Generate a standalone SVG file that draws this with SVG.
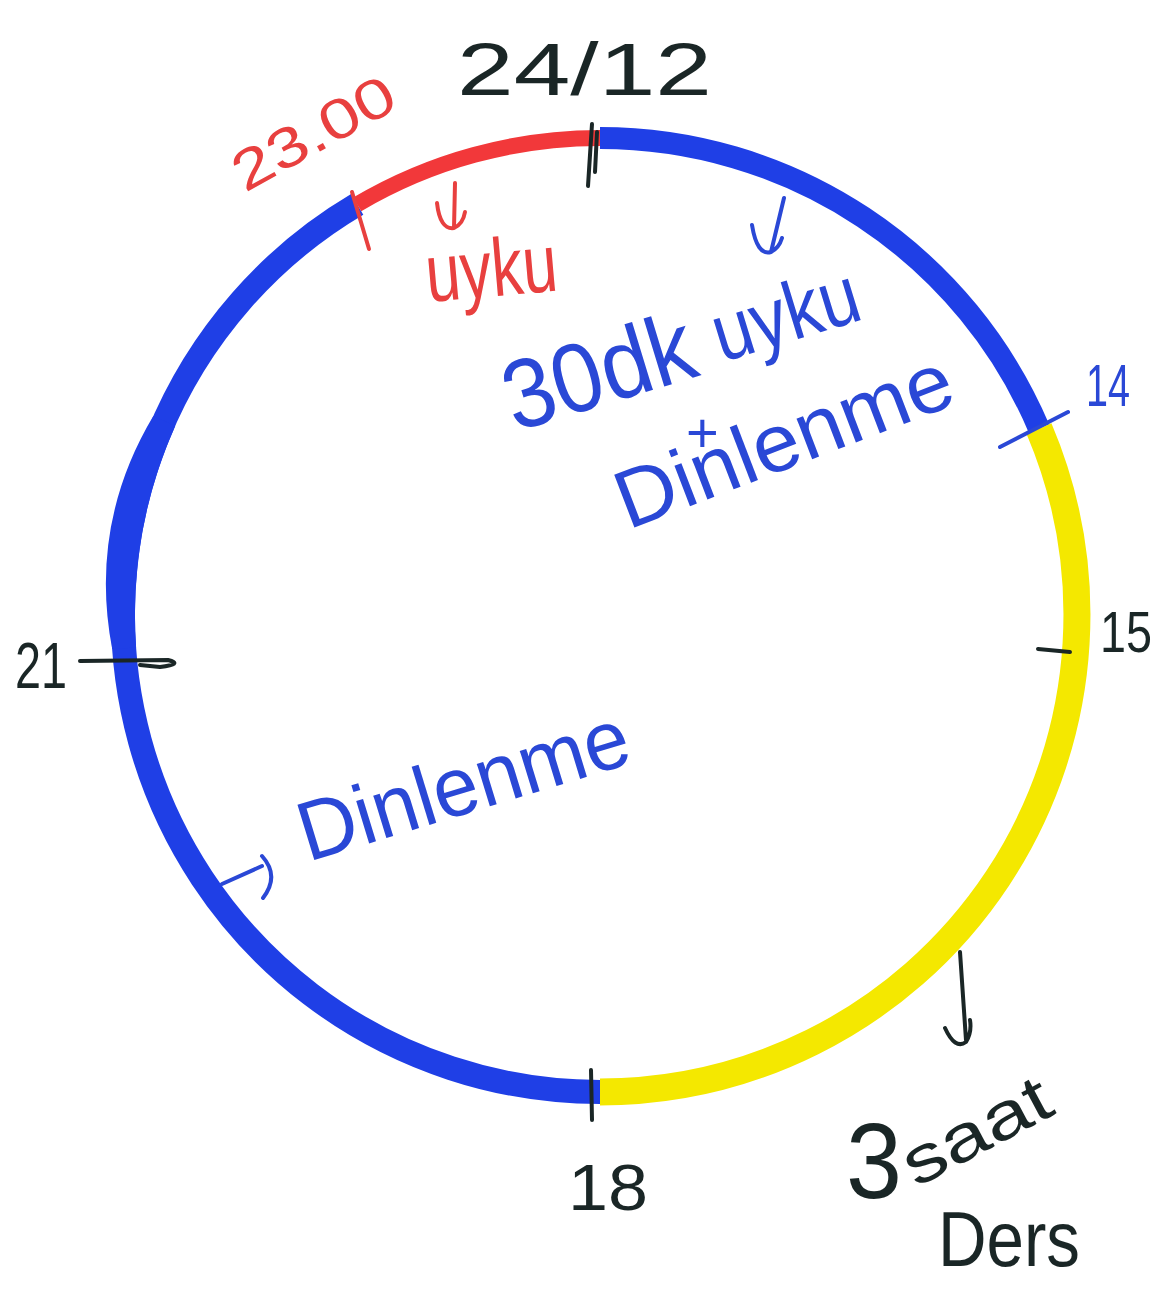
<svg xmlns="http://www.w3.org/2000/svg" width="1166" height="1291" viewBox="0 0 1166 1291">
<style>
.arc{fill:none;stroke-linecap:butt}
.blue{stroke:#1f3fe6}
.yel{stroke:#f4e800}
.red{stroke:#f2383a}
.ink{fill:none;stroke:#1a2626;stroke-width:4;stroke-linecap:round;stroke-linejoin:round}
.inkb{fill:none;stroke:#2a48d6;stroke-width:4;stroke-linecap:round;stroke-linejoin:round}
.inkr{fill:none;stroke:#e8403f;stroke-width:4;stroke-linecap:round;stroke-linejoin:round}
text{font-family:"Liberation Sans","DejaVu Sans",sans-serif}
.tb{fill:#1a2626}
.tblue{fill:#2a48d6}
.tred{fill:#e8403f}
</style>
<rect width="1166" height="1291" fill="#ffffff"/>
<g id="clock">
  <path class="arc blue" stroke-width="22" d="M600,138 A477,477 0 0 1 1039,428.6"/>
  <path class="arc yel" stroke-width="27" d="M1039,428.6 A477,477 0 0 1 600,1092"/>
  <path class="arc blue" stroke-width="24" d="M600,1092 A477,477 0 0 1 357.2,204.4"/>
  <path fill="#1f3fe6" d="M153.3,416.1 Q88.5,524.8 112.2,649.1 L136.1,647.5 A465,465 0 0 1 175.2,425.9 Z"/>
  <path class="arc red" stroke-width="16" d="M357.2,204.4 A477,477 0 0 1 600,138"/>
</g>
<g id="ticks">
  <path class="ink" d="M592,124 L588,186 M597,132 L595,172"/>
  <path class="inkr" d="M352,192 L369,249"/>
  <path class="inkb" stroke-width="6" d="M1000,447 L1068,412"/>
  <path class="ink" d="M1038,649 L1070,652"/>
  <path class="ink" d="M80,661 L168,660 Q184,664 160,667 L140,665"/>
  <path class="ink" d="M591,1070 L592,1120"/>
</g>
<g id="connectors">
  <path class="inkr" d="M455,183 L454,228 M437,203 Q440,230 454,228 Q463,224 465,212"/>
  <path class="inkb" d="M784,198 L771,252 M752,225 Q757,256 771,252 Q779,248 782,238"/>
  <path class="ink" d="M960,952 L966,1040 M945,1028 Q955,1050 966,1042 Q972,1032 970,1020"/>
  <path class="inkb" d="M222,884 L262,866 M262,856 Q280,876 263,898"/>
</g>
<g id="label-2412"><text class="tb" x="457" y="95" font-size="74" textLength="255" lengthAdjust="spacingAndGlyphs">24/12</text></g>
<g id="label-2300"><text class="tred" transform="translate(245,193) rotate(-29)" font-size="56" textLength="178" lengthAdjust="spacingAndGlyphs">23.00</text></g>
<g id="label-uyku"><text class="tred" transform="translate(428,302) rotate(-5)" font-size="82" textLength="132" lengthAdjust="spacingAndGlyphs">uyku</text></g>
<g id="label-30dk" transform="translate(515,432) rotate(-17)">
  <text class="tblue" x="0" y="0" font-size="98" textLength="195" lengthAdjust="spacingAndGlyphs">30dk</text>
  <text class="tblue" x="218" y="-6" font-size="82" textLength="150" lengthAdjust="spacingAndGlyphs">uyku</text>
</g>
<g id="label-plus"><text class="tblue" x="686" y="452" font-size="56">+</text></g>
<g id="label-dinlenme1"><text class="tblue" transform="translate(628,530) rotate(-21)" font-size="82" textLength="355" lengthAdjust="spacingAndGlyphs">Dinlenme</text></g>
<g id="label-14"><text class="tblue" x="1086" y="406" font-size="60" textLength="44" lengthAdjust="spacingAndGlyphs">14</text></g>
<g id="label-15"><text class="tb" x="1100" y="652" font-size="58" textLength="52" lengthAdjust="spacingAndGlyphs">15</text></g>
<g id="label-21"><text class="tb" x="15" y="688" font-size="64" textLength="52" lengthAdjust="spacingAndGlyphs">21</text></g>
<g id="label-dinlenme2"><text class="tblue" transform="translate(308,862) rotate(-17)" font-size="84" textLength="342" lengthAdjust="spacingAndGlyphs">Dinlenme</text></g>
<g id="label-18"><text class="tb" x="568" y="1210" font-size="64" textLength="80" lengthAdjust="spacingAndGlyphs">18</text></g>
<g id="label-3saat">
  <text class="tb" x="846" y="1198" font-size="108" textLength="56" lengthAdjust="spacingAndGlyphs">3</text>
  <text class="tb" transform="translate(916,1188) rotate(-28)" font-size="66" textLength="160" lengthAdjust="spacingAndGlyphs">saat</text>
  <text class="tb" x="938" y="1266" font-size="78" textLength="142" lengthAdjust="spacingAndGlyphs">Ders</text>
</g>
</svg>
